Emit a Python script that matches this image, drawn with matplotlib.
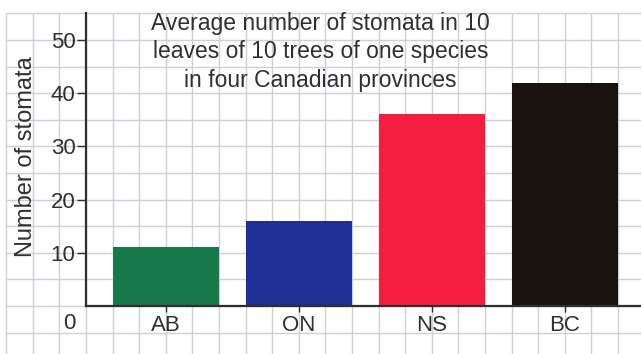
import matplotlib
matplotlib.use("Agg")
import matplotlib.pyplot as plt
import numpy as np

# ---- data ----
provinces = ["AB", "ON", "NS", "BC"]
stomata = [11, 16, 36, 42]
bar_colors = ["#17784a", "#202f95", "#f41f3e", "#19120f"]
y_ticks = [10, 20, 30, 40, 50]
title = "Average number of stomata in 10\nleaves of 10 trees of one species\nin four Canadian provinces"
ylabel = "Number of stomata"

plt.rcParams["font.family"] = ["Liberation Sans", "DejaVu Sans"]
txt = "#303030"

W, H = 641, 354
fig = plt.figure(figsize=(W / 100, H / 100), dpi=100)
ax = fig.add_axes([0, 0, 1, 1])

# data geometry: one grid cell = 1 x-unit = 5 y-units
px_cell = 26.6
x0_px, y0_px = 86, 306
xlim = (-x0_px / px_cell, (W - x0_px) / px_cell)
ylim = (-(H - y0_px) / px_cell * 5, y0_px / px_cell * 5)
ax.set_xlim(*xlim)
ax.set_ylim(*ylim)

# grid paper
grid_c = "#cdd0d8"
gx = np.arange(-3, xlim[1] + 0.01, 1)
gy = np.arange(-5 * 2, 55.01, 5)
ax.vlines(gx, ylim[0], 55, color=grid_c, lw=1.0, zorder=0)
ax.hlines(gy, -3, xlim[1], color=grid_c, lw=1.0, zorder=0)

# bars
centers = [3 + 5 * i for i in range(len(provinces))]
ax.bar(centers, stomata, width=4, color=bar_colors, zorder=2)

# axes
for s in ["top", "right"]:
    ax.spines[s].set_visible(False)
ax.spines["left"].set_position(("data", 0))
ax.spines["bottom"].set_position(("data", 0))
ax.spines["left"].set_bounds(0, 55)
ax.spines["bottom"].set_bounds(0, xlim[1])
for s in ["left", "bottom"]:
    ax.spines[s].set_color("#2e2e2e")
    ax.spines[s].set_linewidth(1.6)
    ax.spines[s].set_zorder(3)

ax.set_yticks(y_ticks)
ax.set_yticklabels([str(v) for v in y_ticks])
ax.set_xticks(centers)
ax.set_xticklabels(provinces)
ax.tick_params(axis="y", direction="out", length=6.5, width=1.0, pad=1,
               labelsize=16, colors="#2e2e2e", labelcolor=txt)
ax.tick_params(axis="x", direction="out", length=4.5, width=1.0, pad=2,
               labelsize=16, colors="#2e2e2e", labelcolor=txt)
ax.text(-0.62, -3.2, "0", ha="center", va="center", fontsize=16, color=txt)

fig.text(0.5, 1 - 12 / H, title, ha="center", va="top", fontsize=16.5,
         color=txt, linespacing=1.3)
fig.text(26 / W, 1 - 157 / H, ylabel, ha="center", va="center",
         rotation=90, fontsize=17, color=txt)

fig.savefig("out.png", dpi=100)
